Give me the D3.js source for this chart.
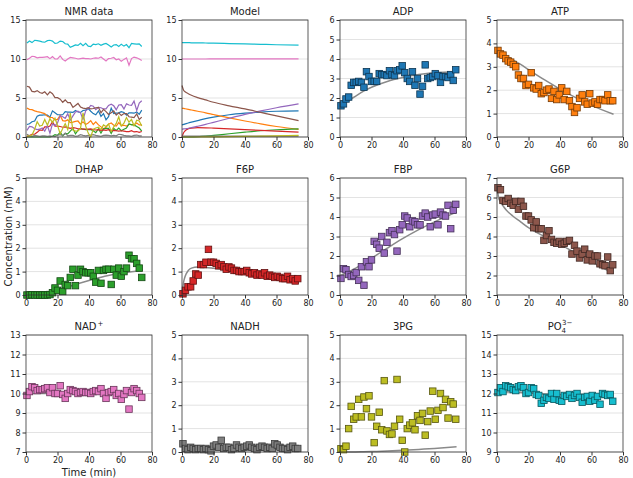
<!DOCTYPE html>
<html>
<head>
<meta charset="utf-8">
<script src="https://cdn.jsdelivr.net/npm/d3@7"></script>
<style>
  body { margin: 0; background: #fff; }
  text { font-family: "DejaVu Sans", sans-serif; }
</style>
</head>
<body>
<div id="chart"></div>
<script>
// Sampling times of the NMR measurements (min)
var times = [0.6, 2.2, 3.8, 5.5, 7.1, 8.7, 10.3, 11.9, 13.6, 15.2, 16.8, 18.4, 20.0, 21.7, 23.3, 24.9,
  26.5, 28.1, 29.8, 31.4, 33.0, 34.6, 36.2, 37.9, 39.5, 41.1, 42.7, 44.3, 46.0, 47.6, 49.2, 50.8,
  52.4, 54.1, 55.7, 57.3, 58.9, 60.5, 62.2, 63.8, 65.4, 67.0, 68.6, 70.3, 71.9, 73.5];

// Measured concentrations (mM)
var adp = [1.6, 1.7, 1.95, 2.05, 2.65, 2.8, 2.8, 2.85, 2.8, 2.55, 3.35, 3.1, 2.85, 2.85, 2.85, 3.25,
  3.2, 3.2, 3.15, 3.4, 3.2, 3.15, 3.4, 3.45, 3.65, 3.3, 3.0, 2.85, 3.35, 2.65, 3.0, 2.2,
  2.6, 3.7, 3.0, 3.05, 3.1, 3.25, 3.15, 2.8, 3.1, 3.1, 3.05, 3.2, 2.9, 3.45];
var atp = [3.7, 3.55, 3.5, 3.35, 3.25, 3.2, 3.1, 3.0, 2.65, 2.5, 2.5, 2.2, 2.25, 2.75, 2.1, 2.05,
  2.2, 1.85, 1.9, 2.0, 2.05, 1.65, 1.95, 1.6, 1.8, 2.1, 1.6, 1.95, 1.55, 1.3, 1.05, 1.25,
  1.65, 1.8, 1.5, 1.4, 1.85, 1.45, 1.5, 1.4, 1.6, 1.6, 1.55, 1.8, 1.55, 1.55];
var dhap = [0.0, 0.0, 0.01, 0.0, 0.0, 0.0, 0.0, 0.0, 0.0, 0.02, 0.1, 0.3, 0.2, 0.6, 0.15, 0.45,
  0.4, 0.75, 1.1, 0.4, 0.85, 1.1, 1.0, 0.95, 0.95, 0.95, 0.8, 0.55, 1.05, 0.5, 1.05, 1.1,
  1.1, 0.45, 1.1, 0.85, 1.15, 0.8, 1.0, 1.15, 1.7, 1.55, 1.55, 1.35, 1.15, 0.75];
var f6p = [0.05, 0.2, 0.35, 0.35, 0.6, 0.9, 0.85, 1.3, 1.3, 1.4, 1.95, 1.4, 1.4, 1.35, 1.25, 1.3,
  1.2, 1.1, 1.2, 1.15, 1.05, 1.05, 1.0, 1.0, 1.0, 1.05, 0.95, 0.9, 0.95, 0.85, 0.9, 0.85,
  0.95, 0.8, 0.85, 0.8, 0.75, 0.8, 0.75, 0.7, 0.7, 0.8, 0.65, 0.7, 0.6, 0.7];
var fbp = [0.85, 1.35, 1.3, 1.05, 0.95, 1.0, 1.15, 0.75, 1.45, 0.5, 1.7, 1.45, 1.8, 2.75, 2.6, 2.4,
  3.0, 2.15, 2.7, 3.2, 3.3, 3.1, 2.25, 3.35, 3.6, 4.05, 3.95, 3.5, 3.8, 3.75, 3.6, 3.6,
  4.05, 4.2, 4.0, 3.5, 4.1, 4.15, 3.6, 4.25, 4.1, 4.05, 4.6, 3.4, 4.35, 4.65];
var g6p = [6.5, 6.4, 5.85, 5.8, 5.95, 5.7, 5.6, 5.8, 5.4, 5.8, 5.55, 5.05, 5.05, 4.85, 4.45, 4.75,
  4.4, 4.4, 3.8, 4.05, 4.3, 3.85, 3.7, 3.65, 3.75, 3.6, 3.65, 3.75, 3.8, 3.1, 3.55, 3.25,
  2.9, 3.1, 3.35, 2.8, 3.1, 2.75, 3.0, 3.0, 2.6, 2.55, 2.5, 2.95, 2.25, 2.55];
var nad = [9.9, 10.1, 10.35, 10.3, 10.15, 10.2, 10.2, 10.25, 10.3, 10.05, 10.3, 10.0, 10.0, 10.4, 9.95, 9.75,
  10.0, 10.2, 10.15, 10.1, 10.0, 10.05, 10.1, 10.05, 10.05, 10.0, 10.1, 10.15, 10.1, 10.25, 10.0, 9.75,
  10.05, 10.1, 10.2, 9.9, 10.0, 9.7, 9.95, 10.15, 9.2, 10.05, 10.25, 10.15, 10.0, 9.8];
var nadh = [0.35, 0.15, 0.1, 0.2, 0.15, 0.1, 0.15, 0.15, 0.1, 0.15, 0.1, 0.05, 0.25, 0.3, 0.2, 0.5,
  0.15, 0.2, 0.2, 0.1, 0.15, 0.3, 0.2, 0.15, 0.2, 0.25, 0.3, 0.2, 0.15, 0.1, 0.2, 0.25,
  0.2, 0.15, 0.2, 0.15, 0.35, 0.3, 0.2, 0.15, 0.15, 0.1, 0.2, 0.25, 0.15, 0.15];
var pg3 = [0.14, 0.1, 0.25, 1.0, 1.95, 1.4, 1.5, 2.25, 1.5, 2.35, 1.85, 2.4, 1.5, 0.4, 1.1, 1.7,
  0.95, 3.05, 0.9, 0.75, 0.77, 1.1, 3.1, 1.4, 0.5, 0.0, 1.0, 1.15, 1.25, 0.95, 1.55, 1.35,
  1.65, 0.72, 1.3, 1.75, 2.6, 1.4, 1.78, 2.5, 1.9, 2.25, 1.45, 2.15, 2.05, 1.4];
var po4 = [12.05, 12.3, 12.1, 12.4, 12.35, 12.3, 12.2, 12.15, 12.35, 12.4, 12.3, 12.0, 12.05, 12.3, 12.25, 11.95,
  11.9, 11.5, 11.65, 11.8, 11.75, 12.0, 11.7, 12.0, 11.65, 11.6, 11.9, 11.85, 11.95, 11.75, 11.9, 12.0,
  11.8, 11.55, 11.8, 11.85, 11.6, 11.9, 11.65, 11.85, 11.45, 12.0, 11.95, 11.9, 11.95, 11.6];

// Model simulation (mM) at these times (min)
var modelTimes = [0, 1, 2, 4, 6, 10, 15, 20, 30, 40, 50, 60, 74];
var adpModel  = [1.55, 1.62, 1.68, 1.8, 1.9, 2.1, 2.35, 2.55, 2.85, 3.05, 3.2, 3.3, 3.35];
var atpModel  = [3.7, 3.66, 3.62, 3.54, 3.46, 3.3, 3.1, 2.88, 2.45, 2.05, 1.68, 1.35, 0.97];
var dhapModel = [0, 0, 0, 0, 0.01, 0.03, 0.1, 0.2, 0.42, 0.62, 0.8, 0.93, 1.05];
var f6pModel  = [0, 0.55, 0.8, 1.05, 1.15, 1.2, 1.18, 1.14, 1.05, 0.95, 0.85, 0.75, 0.62];
var fbpModel  = [1.0, 1.03, 1.06, 1.12, 1.2, 1.38, 1.62, 1.88, 2.4, 2.9, 3.35, 3.75, 4.25];
var g6pModel  = [6.6, 6.0, 5.8, 5.55, 5.35, 5.05, 4.75, 4.45, 4.0, 3.6, 3.15, 2.7, 2.1];
var nadModel  = [10.0, 10.0, 10.0, 10.0, 10.0, 10.0, 10.0, 10.01, 10.01, 10.01, 10.02, 10.02, 10.02];
var nadhModel = [0.12, 0.12, 0.12, 0.12, 0.12, 0.12, 0.12, 0.12, 0.12, 0.12, 0.12, 0.12, 0.12];
var pg3Model  = [0, 0, 0, 0, 0, 0, 0.01, 0.02, 0.04, 0.07, 0.11, 0.15, 0.22];
var po4Model  = [12.1, 12.1, 12.1, 12.09, 12.08, 12.07, 12.05, 12.03, 11.98, 11.93, 11.88, 11.83, 11.77];

var xTicks = [0, 20, 40, 60, 80];

// One entry per metabolite
var species = [
  {name: 'ADP',  data: adp,  model: adpModel,  color: '#1f77b4', domain: [0, 6]},
  {name: 'ATP',  data: atp,  model: atpModel,  color: '#ff7f0e', domain: [0, 5]},
  {name: 'DHAP', data: dhap, model: dhapModel, color: '#2ca02c', domain: [0, 5]},
  {name: 'F6P',  data: f6p,  model: f6pModel,  color: '#d62728', domain: [0, 5]},
  {name: 'FBP',  data: fbp,  model: fbpModel,  color: '#9467bd', domain: [0, 6]},
  {name: 'G6P',  data: g6p,  model: g6pModel,  color: '#8c564b', domain: [1, 7]},
  {name: 'NAD',  data: nad,  model: nadModel,  color: '#e377c2', domain: [7, 13]},
  {name: 'NADH', data: nadh, model: nadhModel, color: '#7f7f7f', domain: [0, 5]},
  {name: '3PG',  data: pg3,  model: pg3Model,  color: '#bcbd22', domain: [0, 5]},
  {name: 'PO4',  data: po4,  model: po4Model,  color: '#17becf', domain: [9, 15]}
];

// Grid layout
var colX = [26, 182, 340, 497];
var rowY = [20, 178, 335];
var pw = 126, ph = 117;

var svg = d3.select('#chart').append('svg')
  .attr('width', 633)
  .attr('height', 478);

function makePanel(i, domain) {
  var g = svg.append('g')
    .attr('transform', 'translate(' + colX[i % 4] + ',' + rowY[Math.floor(i / 4)] + ')');
  var x = d3.scaleLinear().domain([0, 80]).range([0, pw]);
  var y = d3.scaleLinear().domain(domain).range([ph, 0]);
  var step = (domain[1] - domain[0]) > 6 ? 5 : 1;
  var yTicks = d3.range(domain[0], domain[1] + 0.001, step);

  // horizontal grid
  g.append('g').selectAll('line')
    .data(yTicks)
    .enter().append('line')
    .attr('x1', 0).attr('x2', pw)
    .attr('y1', function(d) { return y(d); })
    .attr('y2', function(d) { return y(d); })
    .attr('stroke', '#e3e3e3')
    .attr('stroke-width', 1);

  return {g: g, x: x, y: y, yTicks: yTicks};
}

function finishPanel(p, title) {
  var xa = p.g.append('g')
    .attr('transform', 'translate(0,' + ph + ')')
    .call(d3.axisBottom(p.x).tickValues(xTicks).tickSize(3.5).tickPadding(2));
  var ya = p.g.append('g')
    .call(d3.axisLeft(p.y).tickValues(p.yTicks).tickFormat(d3.format('d')).tickSize(3.5).tickPadding(2));
  [xa, ya].forEach(function(a) {
    a.select('.domain').remove();
    a.selectAll('line').attr('stroke', '#333');
    a.selectAll('text').attr('fill', '#222').style('font-size', '8px').style('font-family', '"DejaVu Sans", sans-serif');
  });

  // frame
  p.g.append('rect')
    .attr('width', pw).attr('height', ph)
    .attr('fill', 'none')
    .attr('stroke', '#333')
    .attr('stroke-width', 0.8);

  var t = p.g.append('text')
    .attr('x', pw / 2).attr('y', -5)
    .attr('text-anchor', 'middle')
    .attr('fill', '#222')
    .style('font-size', '10px');
  if (title === 'NAD') {
    t.append('tspan').text('NAD');
    t.append('tspan').attr('dy', -4).attr('dx', 1).style('font-size', '7px').text('+');
  } else if (title === 'PO4') {
    t.append('tspan').text('PO');
    t.append('tspan').attr('dy', 3).style('font-size', '7px').text('4');
    t.append('tspan').attr('dy', -8).attr('dx', -4).style('font-size', '7px').text('3\u2212');
  } else {
    t.text(title);
  }
}

// Panel 1: all NMR data as lines
var p0 = makePanel(0, [0, 15]);
species.forEach(function(s) {
  var line = d3.line()
    .x(function(d, k) { return p0.x(times[k]); })
    .y(function(d) { return p0.y(d); });
  p0.g.append('path')
    .datum(s.data)
    .attr('fill', 'none')
    .attr('stroke', s.color)
    .attr('stroke-width', 1.2)
    .attr('d', line);
});
finishPanel(p0, 'NMR data');

// Panel 2: all model curves
var p1 = makePanel(1, [0, 15]);
species.forEach(function(s) {
  var line = d3.line()
    .curve(d3.curveMonotoneX)
    .x(function(d, k) { return p1.x(modelTimes[k]); })
    .y(function(d) { return p1.y(d); });
  p1.g.append('path')
    .datum(s.model)
    .attr('fill', 'none')
    .attr('stroke', s.color)
    .attr('stroke-width', 1.2)
    .attr('d', line);
});
finishPanel(p1, 'Model');

// Remaining panels: one per metabolite, model in grey + data squares
species.forEach(function(s, i) {
  var p = makePanel(i + 2, s.domain);
  var line = d3.line()
    .curve(d3.curveMonotoneX)
    .x(function(d, k) { return p.x(modelTimes[k]); })
    .y(function(d) { return p.y(d); });
  p.g.append('path')
    .datum(s.model)
    .attr('fill', 'none')
    .attr('stroke', '#8a8a8a')
    .attr('stroke-width', 1.5)
    .attr('d', line);

  var sz = 6.5;
  p.g.append('g').selectAll('rect')
    .data(s.data)
    .enter().append('rect')
    .attr('x', function(d, k) { return p.x(times[k]) - sz / 2; })
    .attr('y', function(d) { return p.y(d) - sz / 2; })
    .attr('width', sz).attr('height', sz)
    .attr('fill', s.color)
    .attr('stroke', d3.color(s.color).darker(2.2))
    .attr('stroke-width', 0.8);

  finishPanel(p, s.name);
});

// Axis titles
svg.append('text')
  .attr('transform', 'translate(12,' + (rowY[1] + ph / 2) + ') rotate(-90)')
  .attr('text-anchor', 'middle')
  .attr('fill', '#222')
  .style('font-size', '10px')
  .text('Concentration (mM)');

svg.append('text')
  .attr('x', colX[0] + pw / 2).attr('y', 476)
  .attr('text-anchor', 'middle')
  .attr('fill', '#222')
  .style('font-size', '10px')
  .text('Time (min)');
</script>
</body>
</html>
